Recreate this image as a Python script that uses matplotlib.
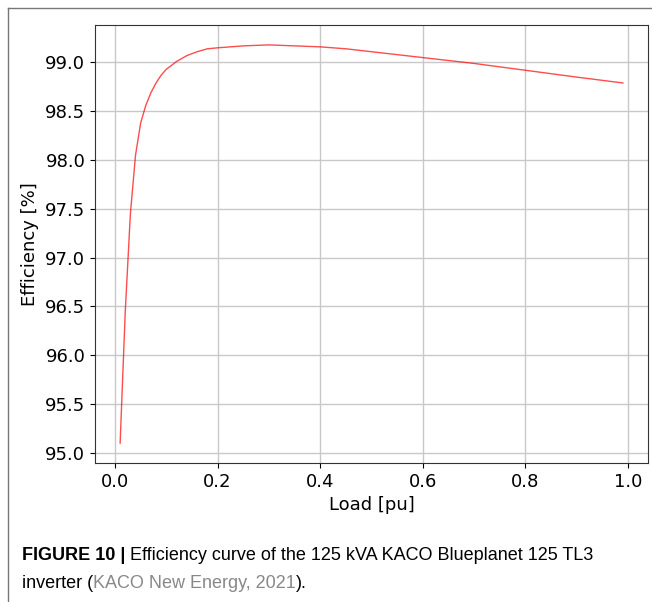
import numpy as np
import matplotlib
matplotlib.use("Agg")
import matplotlib.pyplot as plt
from matplotlib.lines import Line2D

# ---- DATA ----
load_pu = [0.01, 0.02, 0.03, 0.04, 0.05, 0.06, 0.07, 0.08, 0.09, 0.10,
           0.12, 0.14, 0.16, 0.18, 0.20, 0.25, 0.30, 0.35, 0.40, 0.45,
           0.50, 0.60, 0.70, 0.80, 0.90, 0.99]
efficiency = [95.10, 96.45, 97.45, 98.05, 98.38, 98.56, 98.69, 98.79, 98.87, 98.93,
              99.01, 99.07, 99.11, 99.14, 99.15, 99.17, 99.18, 99.17, 99.16, 99.14,
              99.11, 99.05, 98.99, 98.92, 98.85, 98.79]

caption_bold = "FIGURE 10 |"
caption_line1 = " Efficiency curve of the 125 kVA KACO Blueplanet 125 TL3"
caption_line2 = ["inverter (", "KACO New Energy, 2021", ")."]

# ---- PLOT ----
fig = plt.figure(figsize=(6.52, 6.02), dpi=100)
ax = fig.add_axes([0.1457, 0.2309, 0.8482, 0.7276])
ax.plot(load_pu, efficiency, color="red", alpha=0.7, lw=1.0)
ax.grid(True, color="#c8c8c8", lw=1.0)
ax.set_axisbelow(True)
ax.set_xticks([0.0, 0.2, 0.4, 0.6, 0.8, 1.0])
ax.set_yticks(np.arange(95.0, 99.01, 0.5))
ax.tick_params(labelsize=13)
ax.set_xlabel("Load [pu]", fontsize=13)
ax.set_ylabel("Efficiency [%]", fontsize=13)
for s in ax.spines.values():
    s.set_color("#333333")

# page frame (top and left rule)
fig.add_artist(Line2D([8 / 652, 1], [1 - 8 / 602] * 2, transform=fig.transFigure, color="#777777", lw=1))
fig.add_artist(Line2D([8 / 652] * 2, [0, 1 - 8 / 602], transform=fig.transFigure, color="#777777", lw=1))

# caption
cap_font = dict(family="Liberation Sans", fontsize=13, va="baseline")
fig.canvas.draw()
r = fig.canvas.get_renderer()
x0 = 22 / 652
t = fig.text(x0, 1 - 560 / 602, caption_bold, weight="bold", **cap_font)
bb = t.get_window_extent(r)
fig.text(bb.x1 / fig.bbox.width, 1 - 560 / 602, caption_line1, **cap_font)

x = x0
colors = ["black", "#888888", "black"]
for txt, c in zip(caption_line2, colors):
    t = fig.text(x, 1 - 588 / 602, txt, color=c, **cap_font)
    x = t.get_window_extent(r).x1 / fig.bbox.width

fig.savefig("out.png", dpi=100)
